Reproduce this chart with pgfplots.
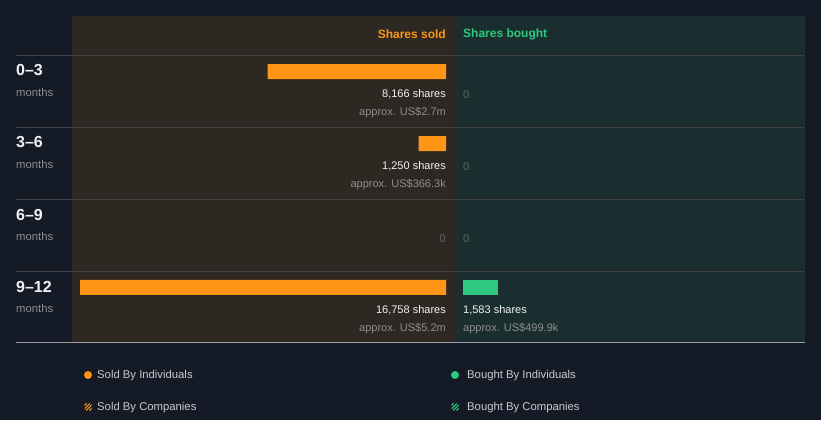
\documentclass[border=0pt]{standalone}
\usepackage{pgfplots}
\pgfplotsset{compat=1.18}
\usepackage{fontspec}
\setmainfont{Liberation Sans}
\definecolor{bgc}{HTML}{151B26}
\definecolor{soldbg}{HTML}{2D2822}
\definecolor{boughtbg}{HTML}{1A2E2F}
\definecolor{sepc}{HTML}{3E4044}
\definecolor{botc}{HTML}{9AA0A6}
\definecolor{orng}{HTML}{FF9516}
\definecolor{grn}{HTML}{2DC97E}
\definecolor{lbl}{HTML}{8C8E92}
\definecolor{zeroc}{HTML}{5E6666}
\definecolor{wht}{HTML}{F2F2F2}
\definecolor{legt}{HTML}{C8CACD}
\newcommand{\fs}[1]{\fontsize{#1}{#1}\selectfont}
\begin{document}
\begin{tikzpicture}
\begin{scope}[x=1pt,y=1pt]
% canvas: pixel (px,py) -> (px, 420-py)
\fill[bgc] (0,0) rectangle (821,420);
\fill[soldbg] (72,404) rectangle (455,77);
\fill[boughtbg] (455,404) rectangle (805,77);
\foreach \yy in {364,292,220,148} {\draw[sepc,line width=1pt] (16,\yy) -- (805,\yy);}
\draw[botc,line width=1pt] (16,77) -- (805,77);
\end{scope}

% sold axis
\begin{axis}[at={(72pt,77pt)}, anchor=south west, scale only axis,
  width=383pt, height=327pt,
  xmin=-412, xmax=17125, x dir=reverse,
  ymin=-0.771, ymax=3.771, y dir=reverse,
  xbar, bar width=15pt, axis lines=none, ticks=none, clip=false,
  x filter/.expression={x==0 ? nan : x}]
\addplot[fill=orng, draw=none] coordinates {(8166,0) (1250,1) (0,2) (16758,3)};
\end{axis}
% bought axis
\begin{axis}[at={(455pt,77pt)}, anchor=south west, scale only axis,
  width=350pt, height=327pt,
  xmin=-366, xmax=15660,
  ymin=-0.771, ymax=3.771, y dir=reverse,
  xbar, bar width=15pt, axis lines=none, ticks=none, clip=false,
  x filter/.expression={x==0 ? nan : x}]
\addplot[fill=grn, draw=none] coordinates {(0,0) (0,1) (0,2) (1583,3)};
\end{axis}

\begin{scope}[x=1pt,y=1pt]
% headers
\node[anchor=east, text=orng, font=\fs{12}\bfseries, inner sep=0pt] at (446,386) {Shares sold};
\node[anchor=west, text=grn, font=\fs{12}\bfseries, inner sep=0pt] at (463,386) {Shares bought};

% row labels
\foreach \r/\lab in {0/0–3,1/3–6,2/6–9,3/9–12} {
  \pgfmathsetmacro{\tp}{420-56-72*\r}
  \node[anchor=west, text=wht, font=\fs{16}\bfseries, inner sep=0pt] at (16,\tp-14.5) {\lab};
  \node[anchor=west, text=lbl, font=\fs{11.3}, inner sep=0pt] at (16,\tp-36.5) {months};
}

% sold labels
\node[anchor=east, text=wht, font=\fs{11}, inner sep=0pt] at (446,420-94.5) {8,166 shares};
\node[anchor=east, text=lbl, font=\fs{11}, inner sep=0pt] at (446,420-112.5) {approx. US\$2.7m};
\node[anchor=east, text=wht, font=\fs{11}, inner sep=0pt] at (446,420-166.5) {1,250 shares};
\node[anchor=east, text=lbl, font=\fs{11}, inner sep=0pt] at (446,420-184.5) {approx. US\$366.3k};
\node[anchor=east, text=zeroc, font=\fs{11}, inner sep=0pt] at (446,420-238.5) {0};
\node[anchor=east, text=wht, font=\fs{11}, inner sep=0pt] at (446,420-310.5) {16,758 shares};
\node[anchor=east, text=lbl, font=\fs{11}, inner sep=0pt] at (446,420-328.5) {approx. US\$5.2m};
% bought labels
\node[anchor=west, text=zeroc, font=\fs{11}, inner sep=0pt] at (463,420-94.5) {0};
\node[anchor=west, text=zeroc, font=\fs{11}, inner sep=0pt] at (463,420-166.5) {0};
\node[anchor=west, text=zeroc, font=\fs{11}, inner sep=0pt] at (463,420-238.5) {0};
\node[anchor=west, text=wht, font=\fs{11}, inner sep=0pt] at (463,420-310.5) {1,583 shares};
\node[anchor=west, text=lbl, font=\fs{11}, inner sep=0pt] at (463,420-328.5) {approx. US\$499.9k};

% legend
\fill[orng] (88,45) circle (4);
\node[anchor=west, text=legt, font=\fs{11.3}, inner sep=0pt] at (97,44) {Sold By Individuals};
\fill[grn] (455,45) circle (4);
\node[anchor=west, text=legt, font=\fs{11.3}, inner sep=0pt] at (467,44) {Bought By Individuals};
\begin{scope}
\clip (84.5,9.5) rectangle (91.5,16.5);
\foreach \d in {-5,-1.7,1.7,5} {\draw[orng,line width=1.1pt] (84.5+\d,9.5) -- (91.5+\d,16.5);}
\end{scope}
\node[anchor=west, text=legt, font=\fs{11.3}, inner sep=0pt] at (97,12) {Sold By Companies};
\begin{scope}
\clip (451.5,9.5) rectangle (458.5,16.5);
\foreach \d in {-5,-1.7,1.7,5} {\draw[grn,line width=1.1pt] (451.5+\d,9.5) -- (458.5+\d,16.5);}
\end{scope}
\node[anchor=west, text=legt, font=\fs{11.3}, inner sep=0pt] at (467,12) {Bought By Companies};
\end{scope}
\end{tikzpicture}
\end{document}
